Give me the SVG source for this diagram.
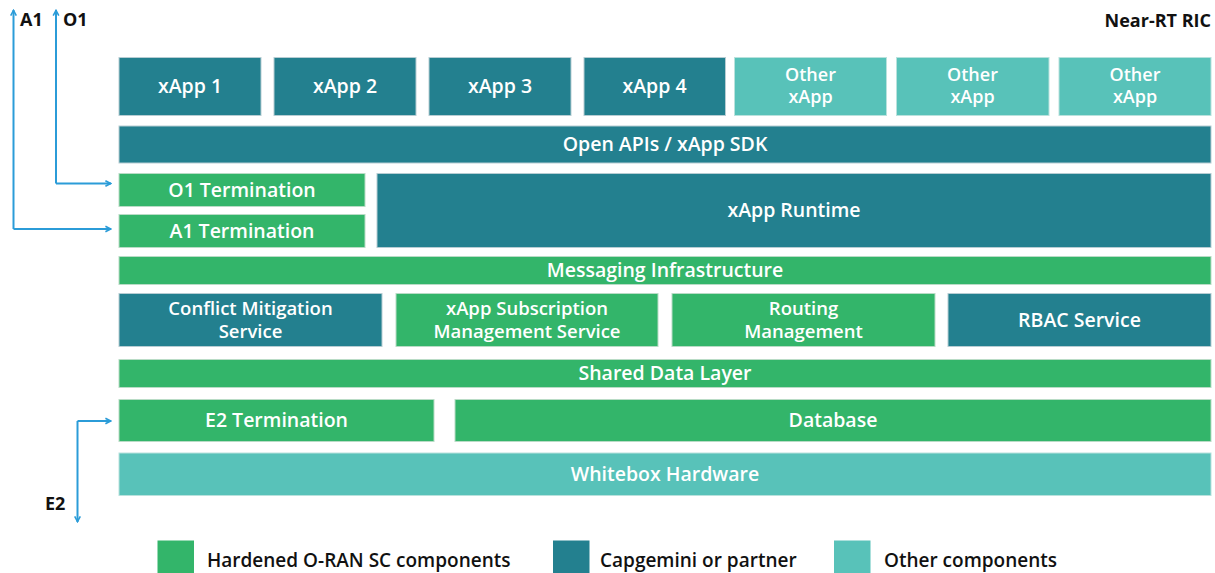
<svg xmlns="http://www.w3.org/2000/svg" width="1215" height="573" viewBox="0 0 1215 573">
<style>
.g{fill:#33b56a;stroke:#b9dcc6;stroke-width:1}
.d{fill:#23808f;stroke:#b7cdd3;stroke-width:1}
.l{fill:#58c2b9;stroke:#b9e2dd;stroke-width:1}
.t{font-family:"Open Sans","Liberation Sans",sans-serif;font-size:19.5px;font-weight:600;fill:#ffffff;text-anchor:middle}
.s{font-size:18.5px}
.o{font-size:18px}
.k{font-family:"Open Sans","Liberation Sans",sans-serif;font-size:18px;font-weight:700;fill:#111111}
.lg{font-family:"Open Sans","Liberation Sans",sans-serif;font-size:19px;font-weight:600;fill:#111111}
.c{fill:none;stroke:#2b9cd8;stroke-width:2}
</style>
<defs>
<marker id="ah" viewBox="0 0 10 10" refX="9" refY="5" markerWidth="8" markerHeight="8" orient="auto" markerUnits="userSpaceOnUse">
<path d="M2,1.5 L8.5,5 L2,8.5" fill="none" stroke="#2b9cd8" stroke-width="2"/>
</marker>
</defs>
<rect width="1215" height="573" fill="#ffffff"/>
<text class="k" x="1211" y="27" text-anchor="end">Near-RT RIC</text>
<g id="xapp1"><rect class="d" x="119" y="57.5" width="142" height="58"/><text class="t" x="190" y="93">xApp 1</text></g>
<g id="xapp2"><rect class="d" x="274" y="57.5" width="142" height="58"/><text class="t" x="345" y="93">xApp 2</text></g>
<g id="xapp3"><rect class="d" x="429" y="57.5" width="142" height="58"/><text class="t" x="500" y="93">xApp 3</text></g>
<g id="xapp4"><rect class="d" x="584" y="57.5" width="141.5" height="58"/><text class="t" x="654.5" y="93">xApp 4</text></g>
<g id="other1"><rect class="l" x="734.5" y="57.5" width="152" height="58"/><text class="t o" x="810.5" y="81">Other</text><text class="t o" x="810.5" y="103">xApp</text></g>
<g id="other2"><rect class="l" x="896.5" y="57.5" width="152.5" height="58"/><text class="t o" x="972.5" y="81">Other</text><text class="t o" x="972.5" y="103">xApp</text></g>
<g id="other3"><rect class="l" x="1059" y="57.5" width="152" height="58"/><text class="t o" x="1135" y="81">Other</text><text class="t o" x="1135" y="103">xApp</text></g>
<g id="openapis"><rect class="d" x="119" y="126" width="1092" height="37"/><text class="t" x="665" y="151">Open APIs / xApp SDK</text></g>
<g id="o1term"><rect class="g" x="119" y="173.5" width="246" height="33"/><text class="t" x="242" y="197">O1 Termination</text></g>
<g id="a1term"><rect class="g" x="119" y="214.5" width="246" height="33"/><text class="t" x="242" y="238">A1 Termination</text></g>
<g id="runtime"><rect class="d" x="377" y="173.5" width="834" height="74"/><text class="t" x="794" y="217">xApp Runtime</text></g>
<g id="messaging"><rect class="g" x="119" y="256.5" width="1092" height="28"/><text class="t" x="665" y="277">Messaging Infrastructure</text></g>
<g id="conflict"><rect class="d" x="119" y="293.5" width="263" height="53"/><text class="t s" x="250.5" y="315">Conflict Mitigation</text><text class="t s" x="250.5" y="338">Service</text></g>
<g id="subscription"><rect class="g" x="396" y="293.5" width="262" height="53"/><text class="t s" x="527" y="315">xApp Subscription</text><text class="t s" x="527" y="338">Management Service</text></g>
<g id="routing"><rect class="g" x="672" y="293.5" width="263" height="53"/><text class="t s" x="803.5" y="315">Routing</text><text class="t s" x="803.5" y="338">Management</text></g>
<g id="rbac"><rect class="d" x="948" y="293.5" width="263" height="53"/><text class="t" x="1079.5" y="326.5">RBAC Service</text></g>
<g id="shared"><rect class="g" x="119" y="359.5" width="1092" height="28"/><text class="t" x="665" y="380">Shared Data Layer</text></g>
<g id="e2term"><rect class="g" x="119" y="399.5" width="315" height="42"/><text class="t" x="276.5" y="427">E2 Termination</text></g>
<g id="database"><rect class="g" x="455" y="399.5" width="756" height="42"/><text class="t" x="833" y="427">Database</text></g>
<g id="whitebox"><rect class="l" x="119" y="453" width="1092" height="42.5"/><text class="t" x="665" y="480.5">Whitebox Hardware</text></g>
<g id="connectors">
<path class="c" d="M13.5,229 V10" marker-end="url(#ah)"/>
<path class="c" d="M13.5,229 H111" marker-end="url(#ah)"/>
<path class="c" d="M56,183.5 V10" marker-end="url(#ah)"/>
<path class="c" d="M56,183.5 H111" marker-end="url(#ah)"/>
<path class="c" d="M77.5,421 H111" marker-end="url(#ah)"/>
<path class="c" d="M77.5,421 V522" marker-end="url(#ah)"/>
</g>
<g id="labels">
<text class="k" x="20" y="26">A1</text>
<text class="k" x="63" y="26">O1</text>
<text class="k" x="45" y="510">E2</text>
</g>
<g id="legend">
<rect x="157.5" y="540.5" width="36.5" height="36" fill="#33b56a"/>
<text class="lg" x="207" y="567">Hardened O-RAN SC components</text>
<rect x="553" y="540.5" width="36.5" height="36" fill="#23808f"/>
<text class="lg" x="600" y="567">Capgemini or partner</text>
<rect x="834" y="540.5" width="36.5" height="36" fill="#58c2b9"/>
<text class="lg" x="884" y="567">Other components</text>
</g>
</svg>
